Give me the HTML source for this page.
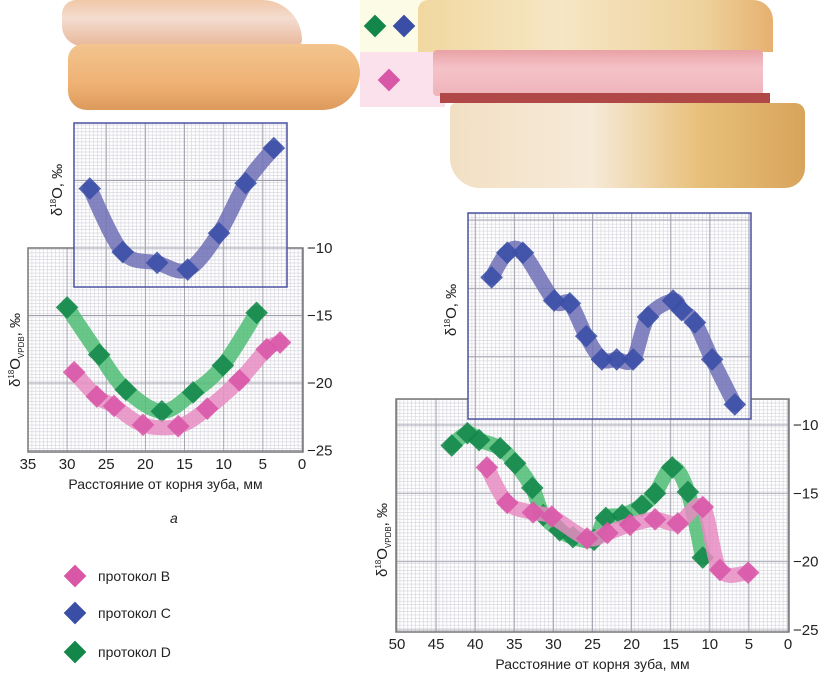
<!DOCTYPE html>
<html><head><meta charset="utf-8">
<style>
body{margin:0;background:#fff;width:821px;height:676px;overflow:hidden;position:relative;font-family:"Liberation Sans",sans-serif}
.abs{position:absolute}
</style></head>
<body>
<div class="abs" style="left:0;top:0;width:370px;height:115px">
  <div class="abs" style="left:62px;top:0px;width:240px;height:46px;border-radius:14px 40px 6px 20px;background:linear-gradient(180deg,#f0c8a8,#f4dcd0 40%,#e8b89a);"></div>
  <div class="abs" style="left:68px;top:44px;width:292px;height:66px;border-radius:16px 30px 40px 20px;background:linear-gradient(180deg,#f2c48e,#efb274 60%,#dc9a5c);"></div>
</div>
<div class="abs" style="left:360px;top:0;width:461px;height:200px">
  <div class="abs" style="left:0;top:0;width:80px;height:52px;background:#fbfbe6"></div>
  <div class="abs" style="left:0;top:52px;width:85px;height:55px;background:#fbe1ec"></div>
  <div class="abs" style="left:58px;top:0;width:355px;height:52px;border-radius:10px 20px 0 0;background:linear-gradient(90deg,#f1d8a0,#f6e6c4 40%,#eed29c 80%,#e6b070);"></div>
  <div class="abs" style="left:73px;top:50px;width:330px;height:46px;background:linear-gradient(180deg,#e9a2a6,#f4c2c8 40%,#eeb4ba);border-radius:4px"></div>
  <div class="abs" style="left:80px;top:93px;width:330px;height:10px;background:#b04848"></div>
  <div class="abs" style="left:90px;top:103px;width:355px;height:85px;border-radius:6px 10px 20px 30px;background:linear-gradient(90deg,#f2e0c4,#f6ead8 40%,#e8c07a 70%,#d8a45c);"></div>
</div>
<svg class="abs" style="left:0;top:0" width="821" height="676" id="svg"></svg>
<script>
// ---- data ----
const leftBlueX=[27.1,22.9,18.5,14.6,10.6,7.2,3.6];
const leftBlueY=[-5.6,-10.3,-11.1,-11.6,-8.9,-5.2,-2.6];
const leftGreenX=[30.0,25.9,22.5,17.9,13.9,10.1,5.8];
const leftGreenY=[-14.4,-17.9,-20.5,-22.1,-20.7,-18.7,-14.8];
const leftPinkX=[29.1,26.2,24.0,20.3,15.8,12.1,8.0,4.5,2.8];
const leftPinkY=[-19.2,-21.0,-21.7,-23.1,-23.2,-21.9,-19.8,-17.5,-17.0];
const rightBlueX=[37.9,35.9,33.9,29.9,27.9,25.8,23.8,21.9,19.8,17.9,14.7,13.6,11.9,9.7,6.8];
const rightBlueY=[0.8,2.6,2.6,-0.9,-1.1,-3.5,-5.2,-5.2,-5.2,-2.1,-0.9,-1.6,-2.5,-5.2,-8.5];
const rightGreenX=[43.0,41.0,39.5,36.8,34.9,32.7,31.3,29.2,27.5,24.8,23.3,21.2,18.7,17.0,14.8,12.8,10.9];
const rightGreenY=[-11.5,-10.6,-11.1,-11.7,-12.8,-14.6,-16.6,-17.7,-18.2,-18.4,-16.8,-16.6,-15.9,-15.0,-13.1,-14.9,-19.7];
const rightPinkX=[38.5,35.9,32.6,30.2,25.7,23.1,20.2,17.0,14.1,10.9,8.7,5.1];
const rightPinkY=[-13.1,-15.7,-16.4,-16.7,-18.3,-17.9,-17.3,-16.9,-17.2,-16.0,-20.6,-20.8];
const leftXTicks=[35,30,25,20,15,10,5,0];
const rightXTicks=[50,45,40,35,30,25,20,15,10,5,0];
const yTicks=[-10,-15,-20,-25];

const NS="http://www.w3.org/2000/svg";
const svg=document.getElementById('svg');
function mk(tag,attrs,parent){const e=document.createElementNS(NS,tag);for(const k in attrs)e.setAttribute(k,attrs[k]);(parent||svg).appendChild(e);return e;}

const COL={blue:['#6f70b6','#3a4ea6'],green:['#4fbd74','#13874a'],pink:['#e88cc2','#d857a7']};

function smoothPath(pts){
  let d='M'+pts[0][0]+','+pts[0][1];
  for(let i=0;i<pts.length-1;i++){
    const p0=pts[i-1]||pts[i],p1=pts[i],p2=pts[i+1],p3=pts[i+2]||p2;
    const c1=[p1[0]+(p2[0]-p0[0])/6,p1[1]+(p2[1]-p0[1])/6];
    const c2=[p2[0]-(p3[0]-p1[0])/6,p2[1]-(p3[1]-p1[1])/6];
    d+=' C'+c1+' '+c2+' '+p2;
  }
  return d;
}
function grid(x0,y0,x1,y1,sx,sy,mmStep,valStep){
  const g=mk('g',{});
  
  
  for(let x=x0;x<=x1+0.1;x+=sx*mmStep){mk('line',{x1:x,y1:y0,x2:x,y2:y1,stroke:'#d8d8e0','stroke-width':0.7},g);}
  for(let y=y1;y>=y0-0.1;y-=sy*valStep){mk('line',{x1:x0,y1:y,x2:x1,y2:y,stroke:'#d8d8e0','stroke-width':0.7},g);}
}
function makeChart(c){
  const X=v=>c.x0-v*c.sx, Y=v=>c.yRef+(c.vRef-v)*c.sy;
  mk('rect',{x:c.bx0,y:c.by0,width:c.bx1-c.bx0,height:c.by1-c.by0,fill:'#fff'});
  grid(c.bx0,c.by0,c.bx1,c.by1,c.sx,c.sy,0.5,0.25);
  for(let m=0;m<=c.maxX;m+=5){const x=X(m);if(x>=c.bx0&&x<=c.bx1)mk('line',{x1:x,y1:c.by0,x2:x,y2:c.by1,stroke:'#a0a0ac','stroke-width':0.9});}
  for(const t of yTicks){mk('line',{x1:c.bx0,y1:Y(t),x2:c.bx1,y2:Y(t),stroke:'#a0a0ac','stroke-width':0.9});}
  mk('rect',{x:c.bx0,y:c.by0,width:c.bx1-c.bx0,height:c.by1-c.by0,fill:'none',stroke:'#777','stroke-width':1.5});
  mk('rect',{x:c.ix0,y:c.iy0,width:c.ix1-c.ix0,height:c.iy1-c.iy0,fill:'#fff'});
  grid(c.ix0,c.iy0,c.ix1,c.iy1,c.sx,c.sy,0.5,0.25);
  for(let m=0;m<=c.maxX;m+=5){const x=X(m);if(x>=c.ix0&&x<=c.ix1)mk('line',{x1:x,y1:c.iy0,x2:x,y2:c.iy1,stroke:'#a0a0ac','stroke-width':0.9});}
  for(let v=-25;v<=10;v+=5){const y=Y(v);if(y>c.iy0&&y<c.iy1)mk('line',{x1:c.ix0,y1:y,x2:c.ix1,y2:y,stroke:'#a0a0ac','stroke-width':0.9});}
  const inset=mk('rect',{x:c.ix0,y:c.iy0,width:c.ix1-c.ix0,height:c.iy1-c.iy0,fill:'none',stroke:'#4a52a0','stroke-width':1.5});
  
  
  for(const t of c.xTicks){const tx=mk('text',{x:X(t),y:c.by1+17,'font-size':15,'text-anchor':'middle',fill:'#222'});tx.textContent=t;
    }
  for(const t of yTicks){const tx=mk('text',{x:c.bx1+4,y:Y(t)+5,'font-size':15,fill:'#222'});tx.textContent='\u2212'+Math.abs(t);
    }
  const series=[[c.gX,c.gY,'green'],[c.pX,c.pY,'pink'],[c.bX,c.bY,'blue']];
  for(const [xs,ys,col] of series){
    const pts=xs.map((v,i)=>[X(v),Y(ys[i])]);
    const p=mk('path',{d:smoothPath(pts),fill:'none',stroke:COL[col][0],'stroke-width':15,'stroke-linecap':'round','stroke-linejoin':'round',opacity:0.85});
    
    
    for(const pt of pts){
      const d=mk('rect',{x:pt[0]-8,y:pt[1]-8,width:16,height:16,fill:COL[col][1],opacity:0.88,transform:'rotate(45 '+pt[0]+' '+pt[1]+')'});
      
      
    }
  }
  const xt=mk('text',{x:(c.bx0+c.bx1)/2,y:c.by1+37,'font-size':14,'text-anchor':'middle',fill:'#222'});
  xt.textContent='Расстояние от корня зуба, мм';
  
  const yt=mk('text',{transform:'translate('+c.ytx+','+c.yty+') rotate(-90)','font-size':15,'text-anchor':'middle',fill:'#222'});
  yt.innerHTML='δ<tspan font-size="8" dy="-6">18</tspan><tspan dy="6">O</tspan><tspan font-size="8" dy="4">VPDB</tspan><tspan dy="-4">, ‰</tspan>';
  
  const it=mk('text',{transform:'translate('+c.itx+','+c.ity+') rotate(-90)','font-size':15,'text-anchor':'middle',fill:'#222'});
  it.innerHTML='δ<tspan font-size="8" dy="-6">18</tspan><tspan dy="6">O, ‰</tspan>';
  
}
makeChart({name:'left',x0:302,sx:7.83,yRef:248,vRef:-10,sy:13.5,maxX:35,
  bx0:28,by0:248,bx1:303,by1:452,ix0:74,iy0:123,ix1:287,iy1:287,
  xTicks:leftXTicks,bX:leftBlueX,bY:leftBlueY,gX:leftGreenX,gY:leftGreenY,pX:leftPinkX,pY:leftPinkY,
  ytx:20,yty:350,itx:62,ity:190});
makeChart({name:'right',x0:788,sx:7.82,yRef:425,vRef:-10,sy:13.67,maxX:50,
  bx0:396,by0:399,bx1:789,by1:632,ix0:468,iy0:213,ix1:751,iy1:419,
  xTicks:rightXTicks,bX:rightBlueX,bY:rightBlueY,gX:rightGreenX,gY:rightGreenY,pX:rightPinkX,pY:rightPinkY,
  ytx:387,yty:540,itx:456,ity:310});
[[375,26,'#13874a'],[404,26,'#3a4ea6'],[389,80,'#d857a7']].forEach(([x,y,c])=>{
  const d=mk('rect',{x:x-8,y:y-8,width:16,height:16,fill:c,transform:'rotate(45 '+x+' '+y+')'});
  
});
const a=mk('text',{x:170,y:523,'font-size':14,'font-style':'italic',fill:'#222'});a.textContent='а';

const legNames=['протокол B','протокол C','протокол D'];
const legCols=['#d857a7','#3a4ea6','#13874a'];
const legY=[576,613,652];
legNames.forEach((n,i)=>{
  const d=mk('rect',{x:75-8,y:legY[i]-8,width:16,height:16,fill:legCols[i],transform:'rotate(45 75 '+legY[i]+')'});
  
  const t=mk('text',{x:98,y:legY[i]+5,'font-size':14,fill:'#222'});t.textContent=n;
  
});
</script>
</body></html>
